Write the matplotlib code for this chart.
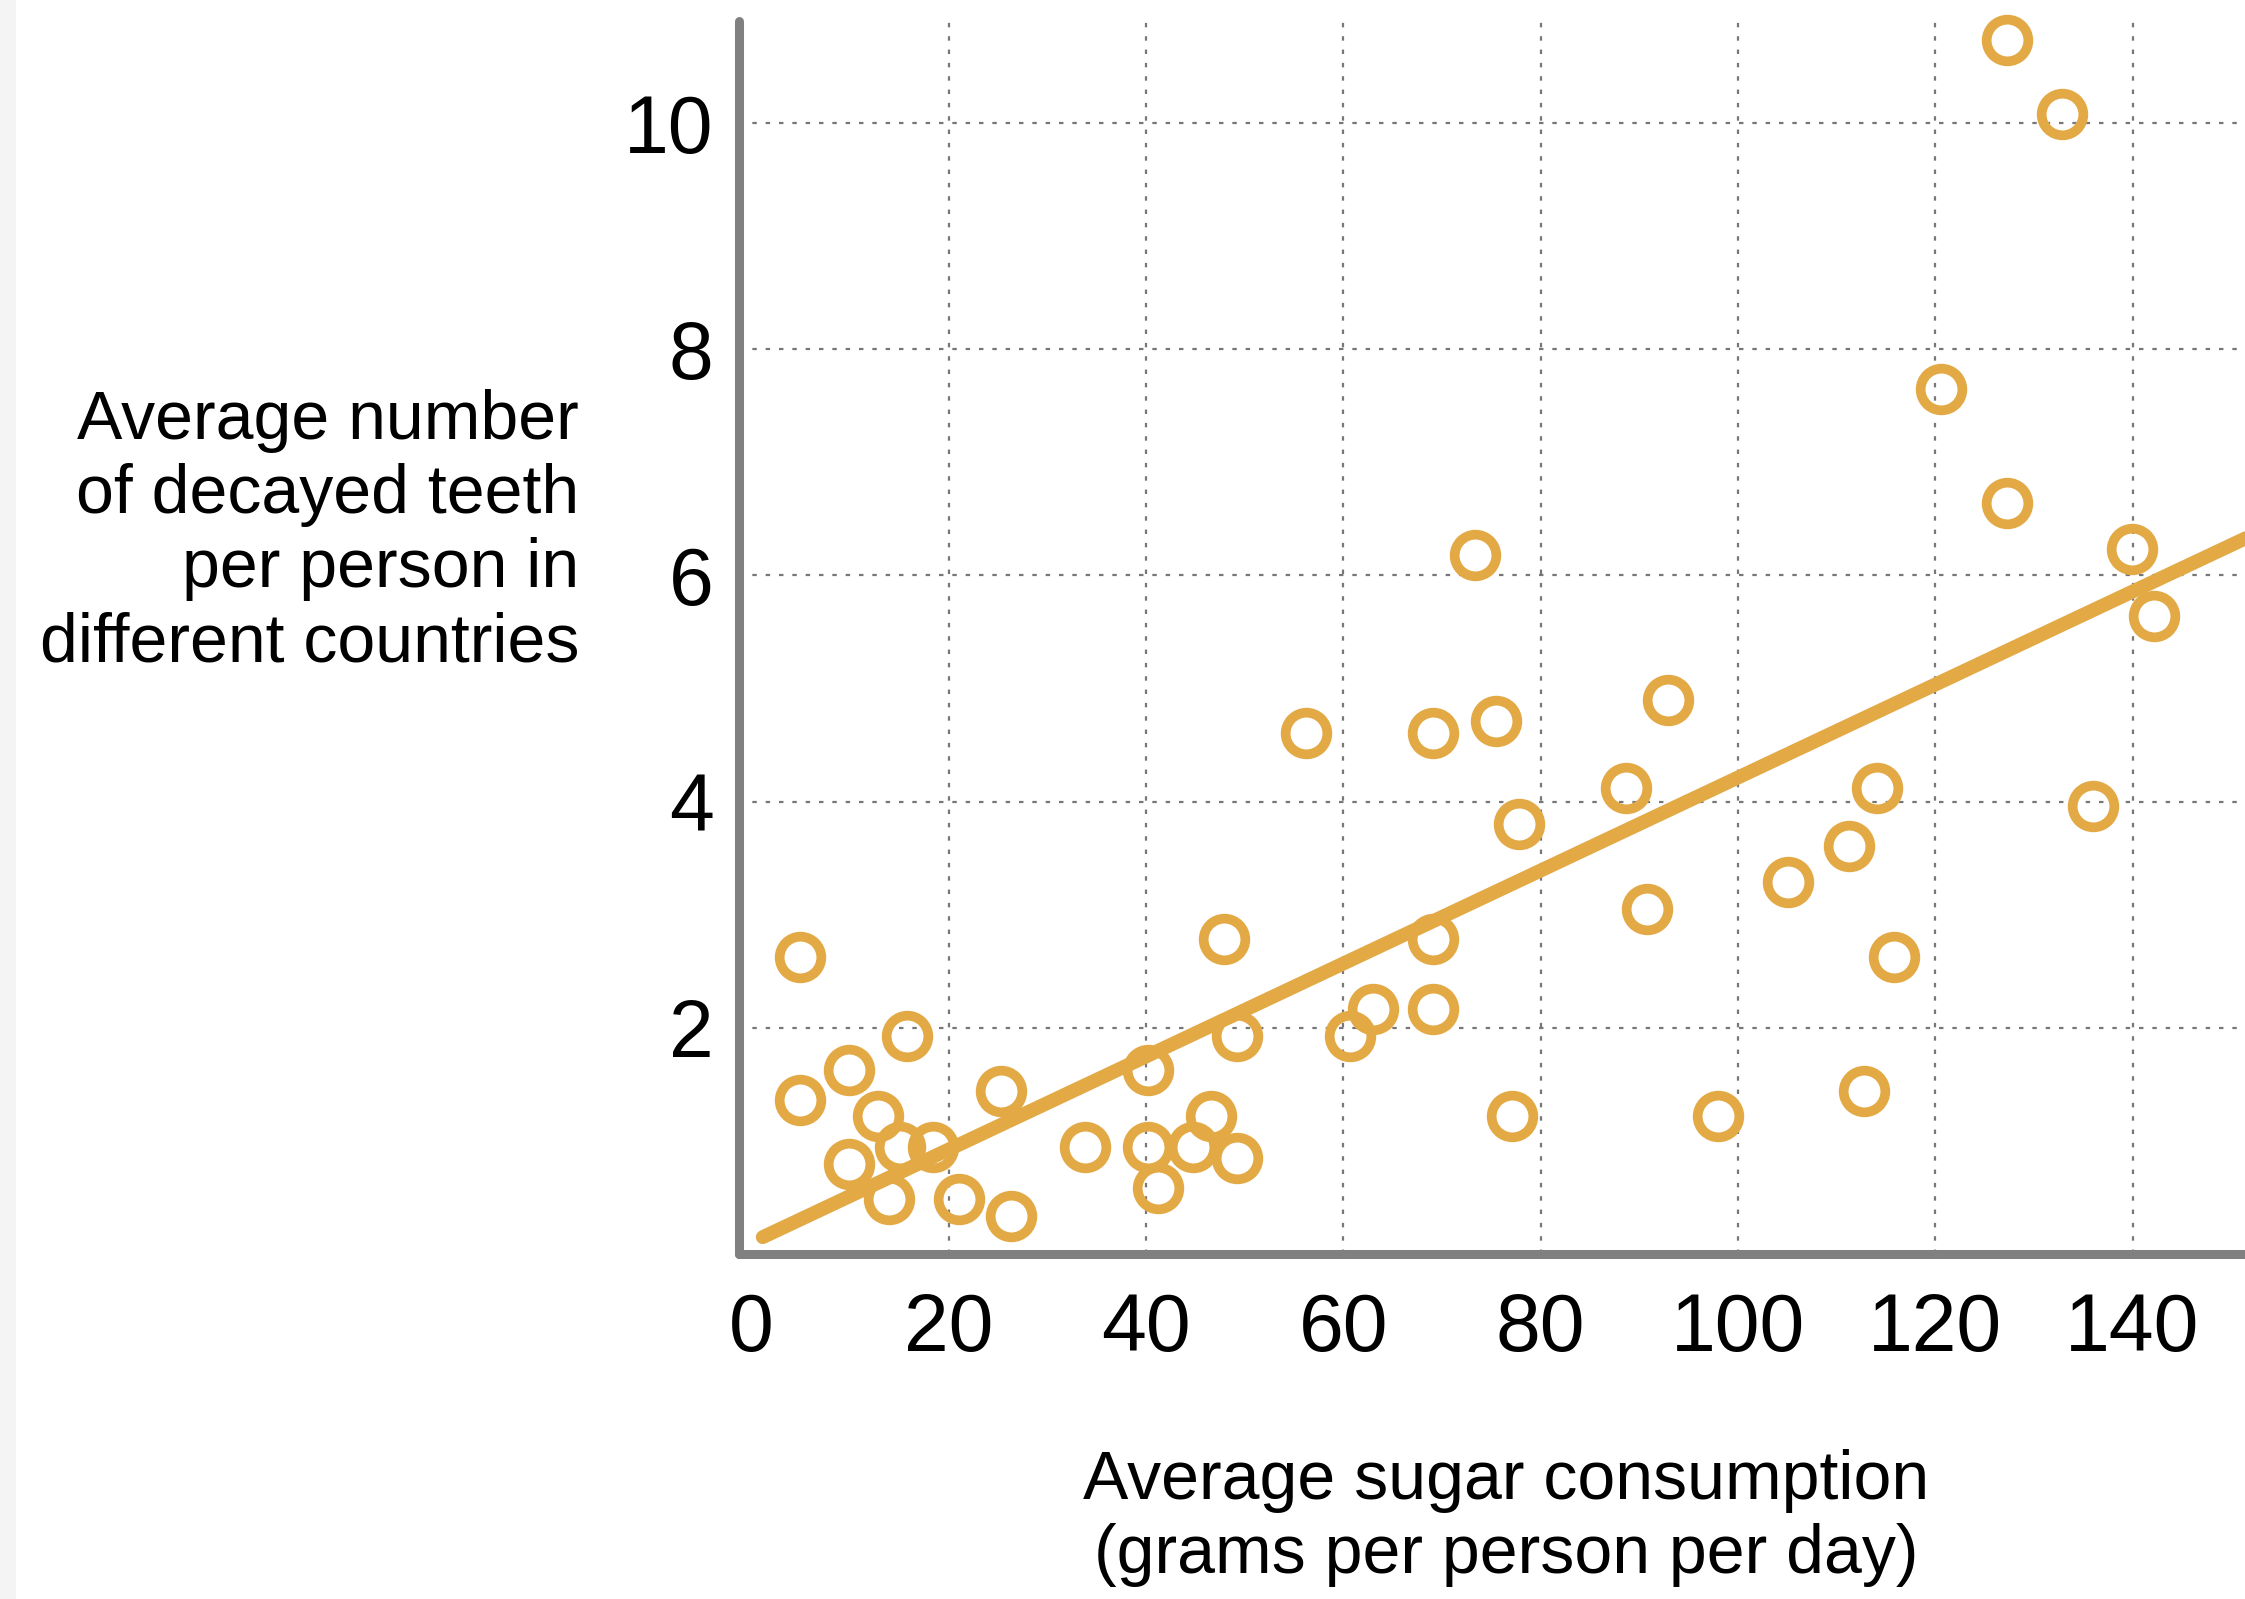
import matplotlib
matplotlib.use("Agg")
import matplotlib.pyplot as plt
from matplotlib.patches import Rectangle

# sugar consumption (g/person/day) vs decayed teeth per person
sugar = [4.9, 4.9, 9.9, 9.9, 12.8, 13.9, 15.1, 15.8, 18.4, 21.0, 25.3, 26.3,
         33.8, 40.2, 40.2, 41.2, 44.8, 46.6, 47.9, 49.2, 49.2, 56.2, 60.7,
         63.0, 69.1, 69.1, 69.1, 73.3, 75.5, 77.1, 77.8, 88.7, 90.8, 92.9,
         98.0, 105.1, 111.3, 112.8, 114.1, 115.8, 120.6, 127.3, 127.3, 132.8,
         136.0, 139.9, 142.2]
teeth = [2.63, 1.36, 1.63, 0.80, 1.22, 0.49, 0.95, 1.93, 0.95, 0.49, 1.44, 0.34,
         0.95, 1.63, 0.95, 0.58, 0.95, 1.22, 2.79, 1.93, 0.85, 4.61, 1.93,
         2.17, 2.79, 2.17, 4.61, 6.18, 4.71, 1.22, 3.80, 4.12, 3.05, 4.90,
         1.22, 3.29, 3.61, 1.44, 4.12, 2.63, 7.65, 10.73, 6.64, 10.08,
         3.96, 6.23, 5.64]

# fitted trend line end points
trend_x = [1.15, 160]
trend_y = [0.15, 6.68]

x_ticks = [0, 20, 40, 60, 80, 100, 120, 140]
y_ticks = [2, 4, 6, 8, 10]

ORANGE = "#E2A945"
AXIS_GRAY = "#808080"

plt.rcParams["font.family"] = ["Liberation Sans", "DejaVu Sans"]

fig = plt.figure(figsize=(22.45, 15.99), dpi=100)
fig.patches.append(Rectangle((0, 0), 16 / 2245, 1, transform=fig.transFigure,
                             facecolor="#f4f4f4", edgecolor="none", zorder=0))

ax = fig.add_axes([0.329, 0.2157, 0.671, 0.771])
ax.set_xlim(-1.3, 151.4)
ax.set_ylim(0, 10.9)

ax.plot(trend_x, trend_y, color=ORANGE, lw=10, solid_capstyle="round", zorder=2)
ax.plot(sugar, teeth, "o", ms=30, mfc="none", mec=ORANGE, mew=7, zorder=3,
        clip_on=False)

for s in ("top", "right"):
    ax.spines[s].set_visible(False)
for s in ("left", "bottom"):
    ax.spines[s].set_color(AXIS_GRAY)
    ax.spines[s].set_linewidth(6.5)
    ax.spines[s].set_capstyle("round")

ax.set_xticks(x_ticks)
ax.set_yticks(y_ticks)
ax.tick_params(length=0, labelsize=58)
ax.tick_params(axis="x", pad=27)
ax.tick_params(axis="y", pad=18)
ax.grid(True, ls=(0, (2, 4)), color="#777777", lw=1.6)
ax.get_xgridlines()[0].set_visible(False)  # no dotted line on the y axis
ax.set_axisbelow(True)

fig.text(0.258, 0.667, "Average number\nof decayed teeth\nper person in\ndifferent countries",
         ha="right", va="center", fontsize=49, linespacing=1.2)
fig.text(0.671, 0.0508, "Average sugar consumption\n(grams per person per day)",
         ha="center", va="center", fontsize=49, linespacing=1.2)

fig.savefig("out.png", dpi=100)
